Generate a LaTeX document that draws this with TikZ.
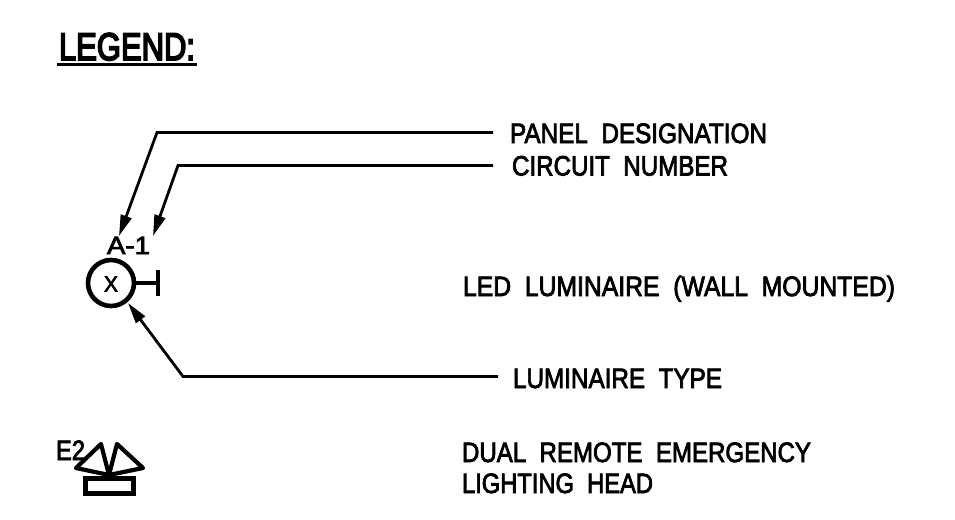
\documentclass[tikz,border=0pt]{standalone}
\usepackage{fontspec}
\usepackage{graphicx}
\setmainfont{Liberation Sans}
\newfontfamily\cadfont[FakeBold=3]{Liberation Sans}
\newfontfamily\cadtitle[FakeBold=5]{Liberation Sans}
\usetikzlibrary{arrows.meta}
\newcommand{\fittext}[3]{\resizebox{#1pt}{\height}{\cadfont\fontsize{#2}{#2}\selectfont #3}}
\newcommand{\fittitle}[3]{\resizebox{#1pt}{\height}{\cadtitle\fontsize{#2}{#2}\selectfont #3}}
\tikzset{
  label/.style={anchor=base west,inner sep=0pt,outer sep=0pt,text=black},
  leader/.style={draw=black,line width=2.8pt,line join=miter},
  pointer/.style={leader,-{Triangle[length=21pt,width=11pt]}},
  symbolline/.style={draw=black,line width=4.2pt,line join=round},
}
\begin{document}
\begin{tikzpicture}[x=1pt,y=-1pt]
\useasboundingbox (0,0) rectangle (955,519);
% title
\node[label] (title) at (59,60) {\fittitle{136}{38.5}{LEGEND:}};
\coordinate (titleL) at (57,64.5);
\coordinate (titleR) at (197,64.5);
\draw[draw=black,line width=3.2pt] (titleL) -- (titleR);
% texts
\node[label] (panel) at (510,143) {\fittext{257}{28}{PANEL\ \ DESIGNATION}};
\node[label] (circuit) at (512,175.5) {\fittext{216}{28}{CIRCUIT\ \ NUMBER}};
\node[label] (led) at (463,296) {\fittext{432}{28}{LED\ \ LUMINAIRE\ \ (WALL\ \ MOUNTED)}};
\node[label] (type) at (513,388) {\fittext{209}{28}{LUMINAIRE\ \ TYPE}};
\node[label] (dual) at (462,462) {\fittext{349}{28}{DUAL\ \ REMOTE\ \ EMERGENCY}};
\node[label] (head) at (462,493) {\fittext{191}{28}{LIGHTING\ \ HEAD}};
\node[label] (a1) at (107,254) {\fittext{43}{25}{A-1}};
\node[label] (e2) at (56,460) {\fittext{29}{28}{E2}};
% luminaire
\node[circle,draw=black,line width=4.6pt,minimum size=46pt,inner sep=0pt,outer sep=0pt] (lum) at (111,283) {};
\node[inner sep=0pt,outer sep=0pt] (x) at (111,284) {\fittext{14}{22}{X}};
\coordinate (barT) at (158,270);
\coordinate (barB) at (158,296);
\coordinate (barM) at (158,283);
\draw[draw=black,line width=3.2pt] (lum.east) -- (barM);
\draw[symbolline] (barT) -- (barB);
% leaders
\coordinate (panelEnd) at (493,132.5);
\coordinate (panelElbow) at (157,132.5);
\coordinate (panelTip) at (119,236);
\draw[pointer] (panelEnd) -- (panelElbow) -- (panelTip);
\coordinate (circEnd) at (493,165.5);
\coordinate (circElbow) at (178,165.5);
\coordinate (circTip) at (153,236);
\draw[pointer] (circEnd) -- (circElbow) -- (circTip);
\coordinate (typeEnd) at (498,376.5);
\coordinate (typeElbow) at (183,376.5);
\coordinate (typeTip) at (128,303);
\draw[pointer] (typeEnd) -- (typeElbow) -- (typeTip);
% emergency head
\node[draw=black,line width=4.4pt,minimum width=48pt,minimum height=15pt,inner sep=0pt,outer sep=0pt] (box) at (109.5,486) {};
\coordinate (apex) at (109,475);
\coordinate (lA) at (76,468);
\coordinate (lB) at (101,444);
\coordinate (rA) at (143,468);
\coordinate (rB) at (117,444);
\draw[symbolline] (apex) -- (lA) -- (lB) -- cycle;
\draw[symbolline] (apex) -- (rA) -- (rB) -- cycle;
\end{tikzpicture}
\end{document}
